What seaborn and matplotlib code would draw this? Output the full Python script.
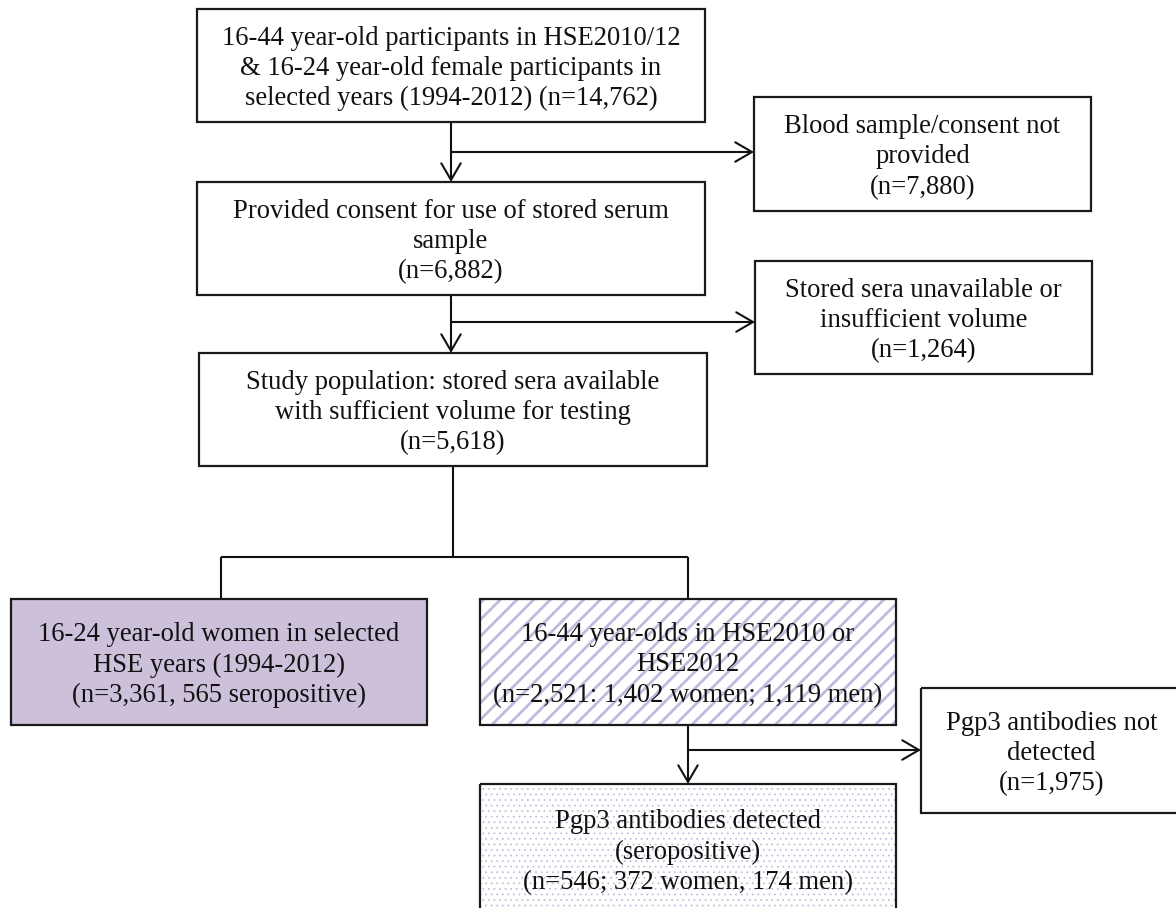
import matplotlib.pyplot as plt
import matplotlib.patches as mpatches
import seaborn as sns

sns.set_theme(style='white')
plt.rcParams['font.family'] = ['Liberation Serif', 'DejaVu Serif']

# texts of the flowchart boxes
main_labels = [
    "16-44 year-old participants in HSE2010/12\n& 16-24 year-old female participants in\nselected years (1994-2012) (n=14,762)",
    "Provided consent for use of stored serum\nsample\n(n=6,882)",
    "Study population: stored sera available\nwith sufficient volume for testing\n(n=5,618)",
]
excl_labels = [
    "Blood sample/consent not\nprovided\n(n=7,880)",
    "Stored sera unavailable or\ninsufficient volume\n(n=1,264)",
    "Pgp3 antibodies not\ndetected\n(n=1,975)",
]
group_labels = [
    "16-24 year-old women in selected\nHSE years (1994-2012)\n(n=3,361, 565 seropositive)",
    "16-44 year-olds in HSE2010 or\nHSE2012\n(n=2,521: 1,402 women; 1,119 men)",
]
result_label = "Pgp3 antibodies detected\n(seropositive)\n(n=546; 372 women, 174 men)"

# box geometry in pixels (x0, y0, x1, y1)
main_boxes = [(197, 9, 705, 122), (197, 182, 705, 295), (199, 353, 707, 466)]
excl_boxes = [(754, 97, 1091, 211), (755, 261, 1092, 374), (921, 688, 1182, 813)]
group_boxes = [(11, 599, 427, 725), (480, 599, 896, 725)]
result_box = (480, 784, 896, 914)

purple = '#ccc0da'
lavender = '#c4b8db'
FS = 19.2

fig = plt.figure(figsize=(11.76, 9.08), dpi=100)
ax = fig.add_axes([0, 0, 1, 1])
ax.set_xlim(0, 1176)
ax.set_ylim(908, 0)
ax.set_axis_off()


def box(b, text, face='white', hatch=None, hcolor=lavender, hlw=1.0):
    x0, y0, x1, y1 = b
    if hatch:
        plt.rcParams['hatch.linewidth'] = hlw
        p = mpatches.Rectangle((x0, y0), x1 - x0, y1 - y0, facecolor='white',
                               edgecolor=hcolor, lw=0, hatch=hatch, zorder=2)
        if hasattr(p, 'set_hatch_linewidth'):
            p.set_hatch_linewidth(hlw)
        ax.add_patch(p)
    else:
        ax.add_patch(mpatches.Rectangle((x0, y0), x1 - x0, y1 - y0, facecolor=face,
                                        edgecolor='none', zorder=2))
    ax.add_patch(mpatches.Rectangle((x0, y0), x1 - x0, y1 - y0, fill=False,
                                    edgecolor='#1a1a1a', lw=1.6, zorder=3))
    ax.text((x0 + x1) / 2, (y0 + y1) / 2 + 3, text, ha='center', va='center',
            fontsize=FS, linespacing=1.28, color='#111111', zorder=4)


def line(x, y):
    ax.plot(x, y, color='#111111', lw=1.5, zorder=1, solid_capstyle='butt')


def arrow(p0, p1):
    ax.annotate('', xy=p1, xytext=p0,
                arrowprops=dict(arrowstyle='->,head_length=1.2,head_width=0.7',
                                mutation_scale=10, lw=1.5, color='#111111',
                                shrinkA=0, shrinkB=0), zorder=1)


for b, t in zip(main_boxes, main_labels):
    box(b, t)
for b, t in zip(excl_boxes, excl_labels):
    box(b, t)
box(group_boxes[0], group_labels[0], face=purple)
box(group_boxes[1], group_labels[1], hatch='//', hlw=2.0)
box(result_box, result_label, hatch='...', hcolor='#c8bddd', hlw=0.6)

# connectors
arrow((451, 122), (451, 182))
arrow((451, 152), (754, 152))
arrow((451, 295), (451, 353))
arrow((451, 322), (755, 322))
line([453, 453], [466, 557])
line([221, 688], [557, 557])
line([221, 221], [557, 599])
line([688, 688], [557, 599])
arrow((688, 725), (688, 784))
arrow((688, 750), (921, 750))

fig.savefig('out.png', dpi=100)
